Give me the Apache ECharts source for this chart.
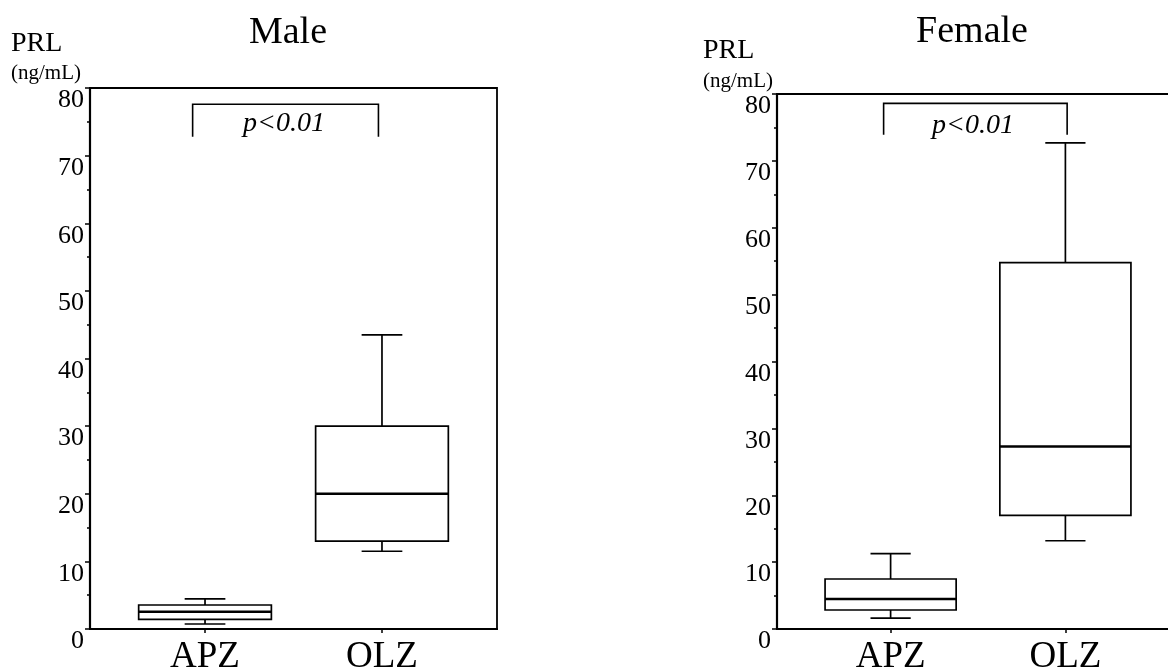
<!DOCTYPE html>
<html>
<head>
<meta charset="utf-8">
<script src="https://cdn.jsdelivr.net/npm/echarts@6/dist/echarts.min.js"></script>
<style>
html,body{margin:0;padding:0;background:#fff;}
#chart{width:1168px;height:671px;}
</style>
</head>
<body>
<div id="chart"></div>
<script>
// ---- data ----
const categories = ['APZ', 'OLZ'];
const panelTitles = ['Male', 'Female'];
const yTicks = [0, 10, 20, 30, 40, 50, 60, 70, 80];
// [min, Q1, median, Q3, max] per category
const maleAPZ = [0.74, 1.43, 2.56, 3.55, 4.44];
const maleOLZ = [11.5, 13.0, 20.0, 30.0, 43.5];
const femaleAPZ = [1.64, 2.84, 4.49, 7.48, 11.26];
const femaleOLZ = [13.2, 17.0, 27.3, 54.8, 72.7];
const pText = 'p<0.01';
// bracket: [xLeft, xRight, yTop, yBottom, textX, textY]
const maleBracket = [-0.07, 0.98, 77.6, 72.8, 0.446, 74.75];
const femaleBracket = [-0.04, 1.01, 78.6, 73.9, 0.471, 75.3];

const FONT = '"Liberation Serif", "Times New Roman", serif';
const BOX_W = 0.75, CAP_W = 0.23;

function boxRows(a, b) {
  return [[0].concat(a), [1].concat(b)];
}

function renderBox(params, api) {
  const x = api.value(0);
  const lo = api.coord([x, api.value(1)]);
  const q1 = api.coord([x, api.value(2)]);
  const md = api.coord([x, api.value(3)]);
  const q3 = api.coord([x, api.value(4)]);
  const hi = api.coord([x, api.value(5)]);
  const bw = api.size([BOX_W, 0])[0];
  const cw = api.size([CAP_W, 0])[0];
  const cx = md[0];
  const st = {stroke: '#000', lineWidth: 1.7, fill: null};
  return {type: 'group', children: [
    {type: 'line', shape: {x1: cx, y1: q3[1], x2: cx, y2: hi[1]}, style: st},
    {type: 'line', shape: {x1: cx - cw / 2, y1: hi[1], x2: cx + cw / 2, y2: hi[1]}, style: st},
    {type: 'line', shape: {x1: cx, y1: q1[1], x2: cx, y2: lo[1]}, style: st},
    {type: 'line', shape: {x1: cx - cw / 2, y1: lo[1], x2: cx + cw / 2, y2: lo[1]}, style: st},
    {type: 'rect', shape: {x: cx - bw / 2, y: q3[1], width: bw, height: q1[1] - q3[1]}, style: {fill: '#fff', stroke: '#000', lineWidth: 1.7}},
    {type: 'line', shape: {x1: cx - bw / 2, y1: md[1], x2: cx + bw / 2, y2: md[1]}, style: {stroke: '#000', lineWidth: 2.5}}
  ]};
}

function renderBracket(params, api) {
  const p1 = api.coord([api.value(0), api.value(3)]);
  const p2 = api.coord([api.value(0), api.value(2)]);
  const p3 = api.coord([api.value(1), api.value(2)]);
  const p4 = api.coord([api.value(1), api.value(3)]);
  const t = api.coord([api.value(4), api.value(5)]);
  return {type: 'group', children: [
    {type: 'polyline', shape: {points: [p1, p2, p3, p4]}, style: {stroke: '#000', lineWidth: 1.6, fill: null}},
    {type: 'text', x: t[0], y: t[1], style: {text: pText, font: 'italic 28px ' + FONT, fill: '#000', align: 'center', verticalAlign: 'middle'}}
  ]};
}

function xAxisDef(gi) {
  return {
    type: 'value', gridIndex: gi, min: -0.65, max: 1.65,
    splitLine: {show: false},
    axisLine: {show: true, onZero: false, lineStyle: {color: '#000', width: 2.2}},
    axisTick: {show: true, customValues: [0, 1], length: 4, lineStyle: {color: '#000', width: 1.5}},
    axisLabel: {show: true, customValues: [0, 1], formatter: v => categories[Math.round(v)] || '',
      color: '#000', fontFamily: FONT, fontSize: 37, lineHeight: 37, margin: 10, verticalAlign: 'top'}
  };
}
function yAxisDef(gi) {
  return {
    type: 'value', gridIndex: gi, min: 0, max: 80, interval: 10,
    splitLine: {show: false},
    axisLine: {show: true, onZero: false, lineStyle: {color: '#000', width: 2.2}},
    axisTick: {show: true, length: 5, lineStyle: {color: '#000', width: 1.5}},
    minorTick: {show: true, splitNumber: 2, length: 3, lineStyle: {color: '#000', width: 1.5}},
    axisLabel: {show: true, color: '#000', fontFamily: FONT, fontSize: 26, lineHeight: 25,
      verticalAlign: 'top', margin: 6, formatter: v => (yTicks.indexOf(v) >= 0 ? String(v) : ''),
      showMinLabel: true, showMaxLabel: true}
  };
}

const chart = echarts.init(document.getElementById('chart'), null, {renderer: 'canvas'});
chart.setOption({
  animation: false,
  backgroundColor: '#fff',
  grid: [
    {left: 90, top: 88, width: 407, height: 541, show: true, borderColor: '#000', borderWidth: 1.8, backgroundColor: 'transparent', outerBoundsMode: 'none', containLabel: false},
    {left: 777, top: 94, width: 402, height: 535, show: true, borderColor: '#000', borderWidth: 1.8, backgroundColor: 'transparent', outerBoundsMode: 'none', containLabel: false}
  ],
  xAxis: [xAxisDef(0), xAxisDef(1)],
  yAxis: [yAxisDef(0), yAxisDef(1)],
  graphic: [
    {type: 'text', x: 288, y: 33, style: {text: panelTitles[0], font: '38px ' + FONT, fill: '#000', align: 'center', verticalAlign: 'middle'}},
    {type: 'text', x: 972, y: 32.5, style: {text: panelTitles[1], font: '38px ' + FONT, fill: '#000', align: 'center', verticalAlign: 'middle'}},
    {type: 'text', x: 11, y: 44, style: {text: 'PRL', font: '28px ' + FONT, fill: '#000', align: 'left', verticalAlign: 'middle'}},
    {type: 'text', x: 11, y: 73.5, style: {text: '(ng/mL)', font: '21px ' + FONT, fill: '#000', align: 'left', verticalAlign: 'middle'}},
    {type: 'text', x: 703, y: 51, style: {text: 'PRL', font: '28px ' + FONT, fill: '#000', align: 'left', verticalAlign: 'middle'}},
    {type: 'text', x: 703, y: 81, style: {text: '(ng/mL)', font: '21px ' + FONT, fill: '#000', align: 'left', verticalAlign: 'middle'}}
  ],
  series: [
    {type: 'custom', xAxisIndex: 0, yAxisIndex: 0, renderItem: renderBox, data: boxRows(maleAPZ, maleOLZ), encode: {x: 0, y: [1, 2, 3, 4, 5]}, silent: true},
    {type: 'custom', xAxisIndex: 1, yAxisIndex: 1, renderItem: renderBox, data: boxRows(femaleAPZ, femaleOLZ), encode: {x: 0, y: [1, 2, 3, 4, 5]}, silent: true},
    {type: 'custom', xAxisIndex: 0, yAxisIndex: 0, renderItem: renderBracket, data: [maleBracket], encode: {x: [0, 1, 4], y: [2, 3, 5]}, silent: true},
    {type: 'custom', xAxisIndex: 1, yAxisIndex: 1, renderItem: renderBracket, data: [femaleBracket], encode: {x: [0, 1, 4], y: [2, 3, 5]}, silent: true}
  ]
});
</script>
</body>
</html>
